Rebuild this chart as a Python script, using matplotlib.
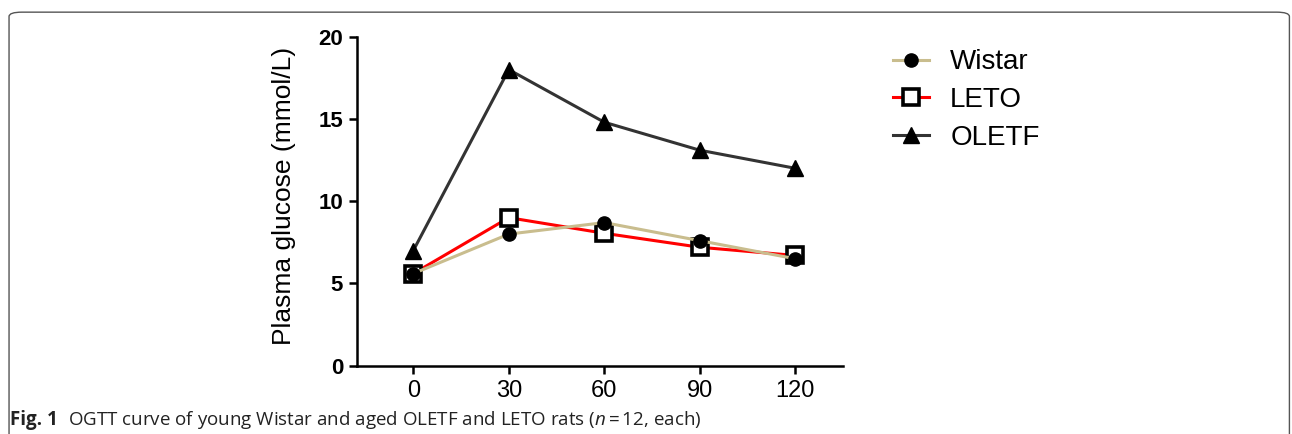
import matplotlib.pyplot as plt
from matplotlib.patches import FancyBboxPatch

# OGTT time points (min) and glucose (mmol/L)
times = [0, 30, 60, 90, 120]
wistar = [5.6, 8.0, 8.7, 7.6, 6.5]
leto = [5.6, 9.0, 8.05, 7.2, 6.7]
oletf = [7.0, 18.0, 14.8, 13.1, 12.0]

y_ticks = [0, 5, 10, 15, 20]

plt.rcParams["mathtext.fontset"] = "custom"
plt.rcParams["mathtext.it"] = "Open Sans:italic"
plt.rcParams["mathtext.rm"] = "Open Sans"

fig = plt.figure(figsize=(12.92, 4.34), dpi=100)

# rounded frame around the figure panel
frame = FancyBboxPatch((0.007, -0.2), 0.991, 1.172, boxstyle="round,pad=0,rounding_size=0.01",
                       transform=fig.transFigure, fill=False, edgecolor="#555555", linewidth=1.0)
fig.patches.append(frame)

ax = fig.add_axes([0.2763, 0.1574, 0.3762, 0.758])

# draw order: OLETF, LETO, then Wistar on top
l3, = ax.plot(times, oletf, color="#333333", lw=2.2, marker="^", ms=11,
              mfc="black", mec="black", zorder=3, clip_on=False)
l2, = ax.plot(times, leto, color="#ff0000", lw=2.2, marker="s", ms=11,
              mfc="white", mec="black", mew=2.6, zorder=4, clip_on=False)
l1, = ax.plot(times, wistar, color="#c9bd8e", lw=2.2, marker="o", ms=9.5,
              mfc="black", mec="black", zorder=5, clip_on=False)

ax.set_xlim(-17.7, 135)
ax.set_ylim(0, 20)
ax.set_xticks(times)
ax.set_yticks(y_ticks)
ax.set_xticklabels([str(t) for t in times], fontsize=17, family="Liberation Sans")
ax.set_yticklabels([str(t) for t in y_ticks], fontsize=16, fontweight="bold", family="Liberation Sans")

for side in ["top", "right"]:
    ax.spines[side].set_visible(False)
for side in ["left", "bottom"]:
    ax.spines[side].set_linewidth(1.8)
ax.tick_params(width=1.8, length=6, color="black", pad=4)

ax.set_ylabel("Plasma glucose (mmol/L)", fontsize=19, family="Liberation Sans")
ax.yaxis.set_label_coords(-0.125, 0.515)

leg = ax.legend([l1, l2, l3], ["Wistar", "LETO", "OLETF"], loc="upper left",
                bbox_to_anchor=(0.672, 0.944), bbox_transform=fig.transFigure,
                frameon=False, handlelength=1.3, handletextpad=0.75, labelspacing=0.42,
                prop={"family": "Liberation Sans", "size": 20})

# caption below the chart
fig.text(0.008, 0.021, "Fig. 1", fontsize=13.5, fontweight="bold", family="Open Sans",
         color="#222222")
fig.text(0.053, 0.021, "OGTT curve of young Wistar and aged OLETF and LETO rats ($n$\u2009=\u200912, each)",
         fontsize=13.5, family="Open Sans", color="#222222")

fig.savefig("out.png", dpi=100)
